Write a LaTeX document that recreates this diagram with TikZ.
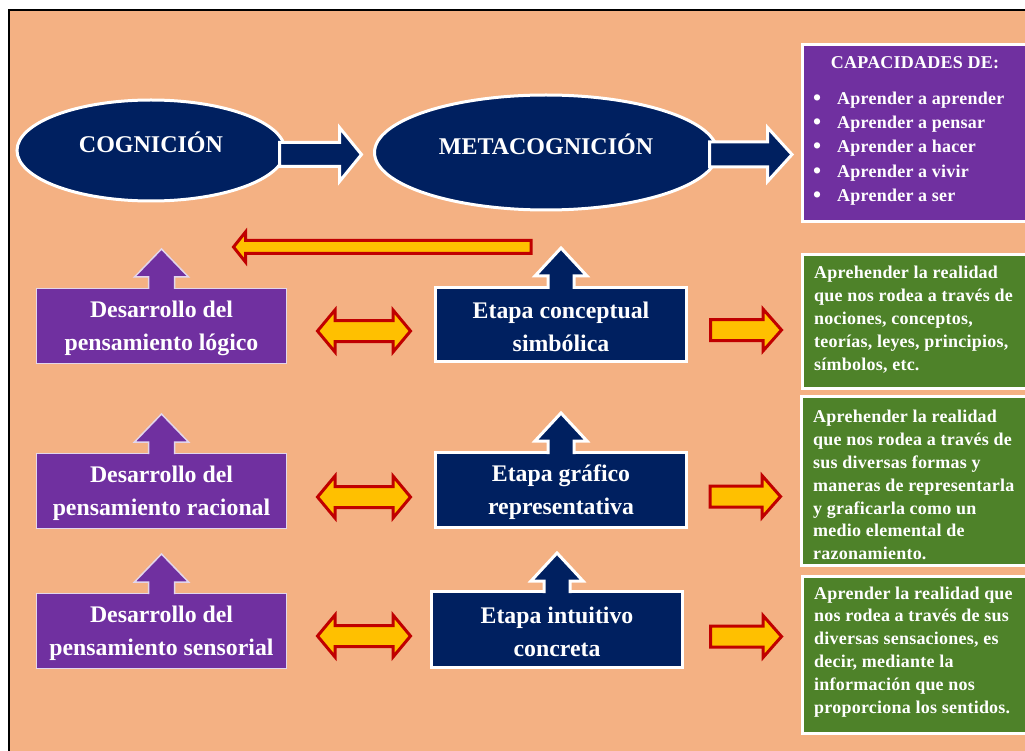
\documentclass[tikz,border=0pt]{standalone}
\usepackage{fontspec}
\usetikzlibrary{shapes.geometric}
\setmainfont{Liberation Serif}
\newfontfamily\spaced[LetterSpace=1.3]{Liberation Serif}
\definecolor{peach}{HTML}{F4B183}
\definecolor{navy}{HTML}{002060}
\definecolor{purp}{HTML}{7030A0}
\definecolor{grn}{HTML}{4E8229}
\definecolor{dred}{HTML}{C00000}
\definecolor{amber}{HTML}{FFC000}
\newcommand\capbullet{\makebox[24pt][l]{\raisebox{-1pt}{\fontsize{23}{23}\selectfont•}}}
\newcommand\topstrut{\rule{0pt}{20.5pt}}
\tikzset{
  oval/.style={ellipse,draw=white,line width=3pt,fill=navy,text=white,inner sep=0pt,font=\bfseries\fontsize{24}{28}\selectfont},
  leftbox/.style={rectangle,draw=white!80!purp,line width=1.5pt,fill=purp,text=white,inner sep=0pt,align=center,minimum width=250pt,font=\bfseries\fontsize{23.8}{33}\selectfont},
  stagebox/.style={rectangle,draw=white,line width=3pt,fill=navy,text=white,inner sep=0pt,align=center,minimum width=251pt,font=\bfseries\fontsize{23.8}{33}\selectfont},
  capbox/.style={rectangle,draw=white,line width=3pt,fill=purp,inner sep=0pt},
  greenbox/.style={rectangle,draw=white,line width=3pt,fill=grn,inner sep=0pt},
  boxtext/.style={text=white,inner sep=0pt,anchor=west,align=left,font=\spaced\bfseries\fontsize{18}{22.9}\selectfont},
  bluearrow/.style={draw=white,fill=navy,line width=3pt,miter limit=10},
  purparrow/.style={draw=white!80!purp,fill=purp,line width=1.5pt,miter limit=10},
  redarrow/.style={draw=dred,fill=amber,line width=3pt,miter limit=10}
}
% style, tail x, head base x, tip x, centre y, head half, shaft half
\newcommand\horizarrow[7]{\draw[#1] ({#2},{#5-#7}) -- ({#3},{#5-#7}) -- ({#3},{#5-#6}) -- ({#4},{#5}) -- ({#3},{#5+#6}) -- ({#3},{#5+#7}) -- ({#2},{#5+#7}) -- cycle;}
% style, left tip, left head x, right head x, right tip, centre y, head half, shaft half
\newcommand\twowayarrow[8]{\draw[#1] ({#2},{#6}) -- ({#3},{#6-#7}) -- ({#3},{#6-#8}) -- ({#4},{#6-#8}) -- ({#4},{#6-#7}) -- ({#5},{#6}) -- ({#4},{#6+#7}) -- ({#4},{#6+#8}) -- ({#3},{#6+#8}) -- ({#3},{#6+#7}) -- cycle;}
% style, centre x, tip y, head base y, bottom y, head half, shaft half
\newcommand\uparrowshape[7]{\draw[#1] ({#2-#7},{#5}) -- ({#2-#7},{#4}) -- ({#2-#6},{#4}) -- ({#2},{#3}) -- ({#2+#6},{#4}) -- ({#2+#7},{#4}) -- ({#2+#7},{#5});}
\begin{document}
\begin{tikzpicture}[x=1pt,y=-1pt]
\useasboundingbox (0,0) rectangle (1025,751);
\fill[white] (0,0) rectangle (1025,751);
\begin{scope}
\clip (0,0) rectangle (1025,751);
\draw[black,line width=2pt,fill=peach] (9,10) rectangle (1040,770);

\node[oval,minimum width=268pt,minimum height=101pt] (cog) at (151,150.5) {\raisebox{17pt}{COGNICIÓN}};
\node[oval,minimum width=343pt,minimum height=115pt] (meta) at (546,152.5) {\raisebox{17pt}{METACOGNICIÓN}};
\horizarrow{bluearrow}{279.5}{339.5}{361.5}{154.5}{27}{12}
\horizarrow{bluearrow}{709.5}{767.5}{792}{154.5}{27}{12.5}

\node[capbox,minimum width=230pt,minimum height=177pt] (cap) at (917,133) {};
\node[boxtext,font=\spaced\bfseries\fontsize{18}{20}\selectfont,anchor=center] (capt) at (915,63) {CAPACIDADES DE:};
\node[boxtext,font=\spaced\bfseries\fontsize{18}{24.3}\selectfont,anchor=west] (capl) at (813,148.5) {\capbullet Aprender a aprender\\\capbullet Aprender a pensar\\\capbullet Aprender a hacer\\\capbullet Aprender a vivir\\\capbullet Aprender a ser};

\node[greenbox,minimum width=230pt,minimum height=134pt] (g1) at (917,321.5) {};
\node[boxtext] (g1t) at (814,319.5) {Aprehender la realidad\\que nos rodea a través de\\nociones, conceptos,\\teorías, leyes, principios,\\símbolos, etc.};
\node[greenbox,minimum width=230pt,minimum height=169pt] (g2) at (916.5,481) {};
\node[boxtext] (g2t) at (813,485) {Aprehender la realidad\\que nos rodea a través de\\sus diversas formas y\\maneras de representarla\\y graficarla como un\\medio elemental de\\razonamiento.};
\node[greenbox,minimum width=230pt,minimum height=157pt] (g3) at (917,655) {};
\node[boxtext] (g3t) at (814,652) {Aprender la realidad que\\nos rodea a través de sus\\diversas sensaciones, es\\decir, mediante la\\información que nos\\proporciona los sentidos.};

\node[leftbox,minimum height=75pt] (d1) at (161.5,326) {\topstrut Desarrollo del\\pensamiento lógico};
\node[leftbox,minimum height=75pt] (d2) at (161.5,491) {\topstrut Desarrollo del\\pensamiento racional};
\node[leftbox,minimum height=75pt] (d3) at (161.5,631) {\topstrut Desarrollo del\\pensamiento sensorial};
\node[stagebox,minimum height=74pt] (e1) at (561,324.5) {\topstrut Etapa conceptual\\simbólica};
\node[stagebox,minimum height=75pt] (e2) at (561,490) {\topstrut Etapa gráfico\\representativa};
\node[stagebox,minimum height=76pt] (e3) at (557,629.5) {\topstrut Etapa intuitivo\\concreta};

\uparrowshape{purparrow}{161.5}{249}{277}{289}{27}{13}
\uparrowshape{purparrow}{161.5}{414}{442}{454}{27}{13}
\uparrowshape{purparrow}{161.5}{554}{582}{594}{27}{13}
\uparrowshape{bluearrow}{561}{248}{276}{289}{26}{13}
\uparrowshape{bluearrow}{561}{413}{441}{454}{26}{13}
\uparrowshape{bluearrow}{557}{553}{581}{593}{26}{13}

\horizarrow{redarrow}{531}{245.5}{233.5}{247}{15}{6.5}
\twowayarrow{redarrow}{317.5}{335}{393}{410.5}{331}{21}{10.5}
\twowayarrow{redarrow}{317.5}{335}{393}{410.5}{497}{21}{10.5}
\twowayarrow{redarrow}{317.5}{335}{393}{410.5}{636}{21}{10.5}
\horizarrow{redarrow}{710.5}{763}{781.5}{330}{21}{10.5}
\horizarrow{redarrow}{710}{762}{780.5}{496.5}{21}{10.5}
\horizarrow{redarrow}{710.5}{763}{781.5}{636.5}{21}{10.5}
\end{scope}
\end{tikzpicture}
\end{document}
